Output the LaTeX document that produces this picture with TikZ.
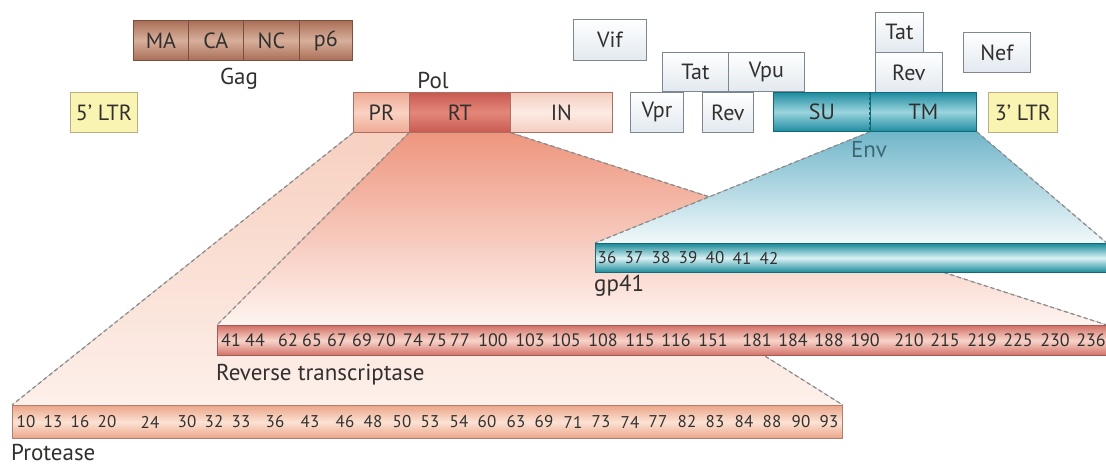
\documentclass[tikz,border=0pt]{standalone}
\usepackage{fontspec}
\setmainfont{PT Sans}
\usetikzlibrary{backgrounds}
\definecolor{txt}{RGB}{50,48,46}
\definecolor{gagdark}{RGB}{170,110,86}
\definecolor{gaglight}{RGB}{215,175,155}
\definecolor{gagline}{RGB}{120,80,65}
\definecolor{prdark}{RGB}{238,170,148}
\definecolor{prlight}{RGB}{250,210,195}
\definecolor{rtdark}{RGB}{200,90,80}
\definecolor{rtlight}{RGB}{228,135,122}
\definecolor{indark}{RGB}{244,205,192}
\definecolor{inlight}{RGB}{252,235,228}
\definecolor{polline}{RGB}{170,110,100}
\definecolor{envdark}{RGB}{30,140,160}
\definecolor{envlight}{RGB}{155,212,222}
\definecolor{envline}{RGB}{20,105,120}
\definecolor{ltrfill}{RGB}{250,244,178}
\definecolor{ltrline}{RGB}{185,175,130}
\definecolor{accfill}{RGB}{226,233,239}
\definecolor{accline}{RGB}{125,135,145}
\definecolor{gpdark}{RGB}{25,138,152}
\definecolor{gplight}{RGB}{218,242,246}
\definecolor{rbdark}{RGB}{210,112,102}
\definecolor{rblight}{RGB}{248,212,202}
\definecolor{rbline}{RGB}{165,90,85}
\definecolor{ptdark}{RGB}{236,165,136}
\definecolor{ptlight}{RGB}{252,226,212}
\definecolor{ptline}{RGB}{175,128,110}
\definecolor{dashc}{RGB}{140,140,140}
\definecolor{wpTop}{RGB}{247,208,192}
\definecolor{wpBot}{RGB}{253,240,234}
\definecolor{wrTop}{RGB}{238,150,126}
\definecolor{wrBot}{RGB}{254,244,240}
\definecolor{weTop}{RGB}{112,182,202}
\definecolor{weBot}{RGB}{242,249,251}
\definecolor{envtxt}{RGB}{60,105,115}
\tikzset{
  seg/.style={inner sep=0, anchor=north west, line width=0.8pt,
    font=\fontsize{22}{24}\selectfont, text=txt},
  gagseg/.style={seg, draw=gagline, top color=gagdark, bottom color=gagdark, middle color=gaglight},
  prseg/.style={seg, draw=polline, top color=prdark, bottom color=prdark, middle color=prlight},
  rtseg/.style={seg, draw=polline, top color=rtdark, bottom color=rtdark, middle color=rtlight},
  inseg/.style={seg, draw=polline, top color=indark, bottom color=indark, middle color=inlight},
  envseg/.style={seg, draw=envline, top color=envdark, bottom color=envdark, middle color=envlight},
  ltrseg/.style={seg, draw=ltrline, fill=ltrfill},
  accseg/.style={seg, draw=accline, top color=white, bottom color=accfill},
  lbl/.style={inner sep=0, font=\fontsize{23}{25}\selectfont, text=txt},
  bar/.style={inner sep=0, anchor=north west, line width=0.8pt},
  num/.style={inner sep=0, font=\fontsize{17}{19}\selectfont, text=txt},
  rnum/.style={inner sep=0, font=\fontsize{18}{20}\selectfont, text=txt},
  wl/.style={draw=dashc, line width=1.3pt, dash pattern=on 4pt off 3pt},
}
\begin{document}
\begin{tikzpicture}[x=1pt,y=-1pt]
\useasboundingbox (0,0) rectangle (1106,465);
% Gag
\node[gagseg, minimum width=55pt, minimum height=40pt] (ma) at (133,20) {MA};
\node[gagseg, minimum width=55pt, minimum height=40pt] (ca) at (188,20) {CA};
\node[gagseg, minimum width=56pt, minimum height=40pt] (nc) at (243,20) {NC};
\node[gagseg, minimum width=53pt, minimum height=40pt] (p6) at (299,20) {p6};
\node[lbl] (gag) at (239,79) {Gag};
% LTRs
\node[ltrseg, minimum width=67pt, minimum height=40pt] (ltr5) at (70,92) {5’ LTR};
\node[ltrseg, minimum width=69pt, minimum height=40pt] (ltr3) at (988,92) {3’ LTR};
% Pol
\node[prseg, minimum width=56pt, minimum height=40pt] (pr) at (353,92) {PR};
\node[rtseg, minimum width=101pt, minimum height=40pt] (rt) at (409,92) {RT};
\node[inseg, minimum width=102pt, minimum height=40pt] (in) at (510,92) {IN};
\node[lbl] (pol) at (433,80) {Pol};
% accessory
\node[accseg, minimum width=73pt, minimum height=41pt] (vif) at (573,19) {Vif};
\node[accseg, minimum width=66pt, minimum height=39pt] (tat1) at (662,52) {Tat};
\node[accseg, minimum width=76pt, minimum height=39pt] (vpu) at (728,52) {Vpu};
\node[accseg, minimum width=53pt, minimum height=40pt] (vpr) at (630,92) {Vpr};
\node[accseg, minimum width=51pt, minimum height=40pt] (rev1) at (702,92) {Rev};
\node[accseg, minimum width=48pt, minimum height=40pt] (tat2) at (875,12) {Tat};
\node[accseg, minimum width=67pt, minimum height=40pt] (rev2) at (875,52) {Rev};
\node[accseg, minimum width=67pt, minimum height=40pt] (nef) at (963,32) {Nef};
% Env
\node[envseg, minimum width=97pt, minimum height=39pt] (su) at (773,92) {SU};
\node[envseg, minimum width=106pt, minimum height=39pt] (tm) at (870,92) {TM};
\draw[envline, line width=1.3pt, dash pattern=on 3pt off 2pt] (tm.north west) -- (tm.south west) -- (tm.south east);
\node[lbl, text=envtxt] (env) at (869,150) {Env};
% expanded bars
\node[bar, draw=envline, top color=gpdark, bottom color=gpdark, middle color=gplight,
  minimum width=511pt, minimum height=29pt] (gpbar) at (595,243) {};
\node[bar, draw=rbline, top color=rbdark, bottom color=rbdark, middle color=rblight,
  minimum width=889pt, minimum height=30pt] (rtbar) at (217,325) {};
\node[bar, draw=ptline, top color=ptdark, bottom color=ptdark, middle color=ptlight,
  minimum width=830pt, minimum height=33pt] (prot) at (12,405) {};
\node[lbl, anchor=base west] (gplbl) at (594,291) {gp41};
\node[lbl, anchor=base west] (rtlbl) at (216,380) {Reverse transcriptase};
\node[lbl, anchor=base west] (ptlbl) at (11,460) {Protease};
% numbers
\foreach \n/\x in {36/607,37/634,38/661,39/688,40/715,41/742,42/769}
  \node[num] (g\n) at (\x,258) {\n};
\foreach \n/\x [count=\i] in {41/231,44/255,62/288,65/312,67/337,69/362,70/386,74/413,75/437,77/460,
  100/493,103/530,105/566,108/603,115/640,116/676,151/713,181/757,184/793,188/829,190/865,
  210/909,215/945,219/982,225/1018,230/1055,236/1091}
  \node[rnum] (r\i) at (\x,340) {\n};
\foreach \n/\x [count=\i] in {10/26,13/53,16/80,20/107,24/150,30/187,32/214,33/241,36/275,43/310,
  46/345,48/373,50/402,53/430,54/459,60/487,63/516,69/544,71/573,73/601,74/630,77/658,
  82/687,83/715,84/744,88/772,90/801,93/829}
  \node[num] (p\i) at (\x,422) {\n};
% wedges
\begin{scope}[on background layer]
  \fill[top color=wpTop, bottom color=wpBot] (pr.south west) -- (pr.south east) -- (prot.north east) -- (prot.north west) -- cycle;
  \draw[wl] (pr.south west) -- (prot.north west);
  \draw[wl] (pr.south east) -- (prot.north east);
  \fill[top color=wrTop, bottom color=wrBot] (rt.south west) -- (rt.south east) -- (rtbar.north east) -- (rtbar.north west) -- cycle;
  \draw[wl] (rt.south west) -- (rtbar.north west);
  \draw[wl] (rt.south east) -- (rtbar.north east);
  \fill[top color=weTop, bottom color=weBot] (tm.south west) -- (tm.south east) -- (gpbar.north east) -- (gpbar.north west) -- cycle;
  \draw[wl] (tm.south west) -- (gpbar.north west);
  \draw[wl] (tm.south east) -- (gpbar.north east);
\end{scope}
\end{tikzpicture}
\end{document}
